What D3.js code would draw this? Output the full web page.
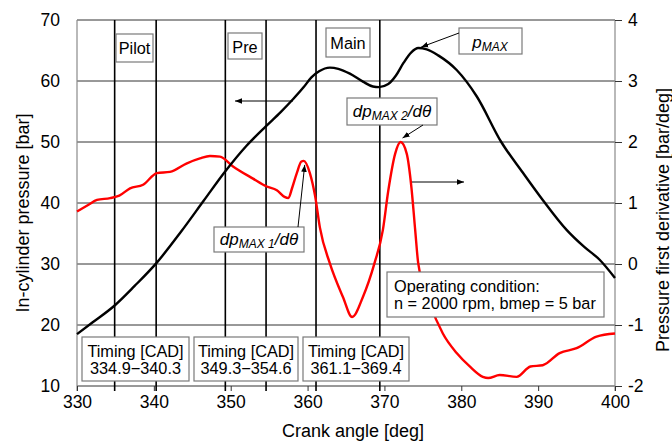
<!DOCTYPE html>
<html>
<head>
<meta charset="utf-8">
<script src="https://cdn.jsdelivr.net/npm/d3@7"></script>
<style>
  body { margin: 0; background: #fff; }
  svg { display: block; font-family: 'Liberation Sans', Arial, sans-serif; }
</style>
</head>
<body>
<svg id="area" width="672" height="443"></svg>
<script>
// crank angle [deg] and in-cylinder pressure [bar] (left axis)
const pAngle = [330, 332, 334.9, 337.5, 340.3, 343.6, 346.5, 349.3, 352, 354.6, 356.5, 358.1, 359.5, 360.5,
  361.5, 362.9, 364, 365.5, 367.2, 368.5, 369.3, 370.5, 371.5, 372.5, 373.5, 374.4, 375.5, 377, 379.4,
  382, 385.2, 388, 390.6, 393.7, 396, 398, 400];
const pValue = [18.5, 20.4, 23.2, 26.4, 30.1, 35.4, 40.4, 45.2, 49.3, 52.6, 54.9, 57.0, 59.0, 60.6,
  61.6, 62.2, 62.0, 61.2, 59.9, 59.1, 59.0, 59.5, 60.9, 63.0, 64.7, 65.4, 65.2, 64.2, 61.8,
  57.5, 50.0, 45.0, 40.5, 35.6, 32.8, 30.7, 27.7];

// pressure first derivative [bar/deg] (right axis)
const dAngle = [330, 331.5, 332.6, 334.3, 335.5, 336.9, 338.6, 340.4, 342.1, 344.3, 346, 347.3, 348.6,
  350.3, 352.9, 354.7, 356, 357, 357.5, 358, 358.6, 359.2, 359.5, 360.3, 361, 361.6, 362.9, 364.6,
  365.8, 367.2, 368.7, 369.8, 370.5, 371.4, 372.1, 372.9, 373.5, 374, 374.4, 375.9, 377.6, 379.4,
  381.1, 382.8, 383.5, 385, 387.2, 389, 390.6, 392.8, 395, 397.6, 400];
const dValue = [0.86, 0.97, 1.05, 1.08, 1.12, 1.24, 1.30, 1.49, 1.51, 1.65, 1.73, 1.77, 1.76,
  1.60, 1.40, 1.27, 1.21, 1.10, 1.08, 1.25, 1.49, 1.68, 1.69, 1.49, 1.1, 0.6, 0.01, -0.54,
  -0.87, -0.54, 0.01, 0.56, 1.2, 1.81, 2.0, 1.81, 1.27, 0.56, 0.01, -0.64, -1.14, -1.46,
  -1.68, -1.85, -1.87, -1.82, -1.85, -1.68, -1.66, -1.46, -1.38, -1.19, -1.14];

// injection timings [CAD]
const timingLabels = ['Pilot', 'Pre', 'Main'];
const timingStart = [334.9, 349.3, 361.1];
const timingEnd = [340.3, 354.6, 369.4];

const xTicks = [330, 340, 350, 360, 370, 380, 390, 400];
const leftTicks = [10, 20, 30, 40, 50, 60, 70];
const rightTicks = [-2, -1, 0, 1, 2, 3, 4];

const svg = d3.select('#area');
const margin = { top: 20, bottom: 57, left: 77, right: 57 };
const width = 672 - margin.left - margin.right;
const height = 443 - margin.top - margin.bottom;

const x = d3.scaleLinear().domain([330, 400]).range([margin.left, margin.left + width]);
const yL = d3.scaleLinear().domain([10, 70]).range([margin.top + height, margin.top]);
const yR = d3.scaleLinear().domain([-2, 4]).range([margin.top + height, margin.top]);

// defs: arrow head
svg.append('defs').append('marker')
  .attr('id', 'head')
  .attr('viewBox', '0 0 10 10')
  .attr('refX', 10)
  .attr('refY', 5)
  .attr('markerWidth', 7)
  .attr('markerHeight', 7)
  .attr('markerUnits', 'userSpaceOnUse')
  .attr('orient', 'auto')
  .append('path')
  .attr('d', 'M0,1 L10,5 L0,9 z')
  .attr('fill', '#000');

// horizontal grid
svg.append('g')
  .selectAll('line')
  .data(leftTicks)
  .join('line')
  .attr('x1', margin.left)
  .attr('x2', margin.left + width)
  .attr('y1', (d) => yL(d))
  .attr('y2', (d) => yL(d))
  .attr('stroke', '#333')
  .attr('stroke-width', 1);

// left and right frame lines
svg.append('line')
  .attr('x1', margin.left).attr('x2', margin.left)
  .attr('y1', margin.top).attr('y2', margin.top + height + 5)
  .attr('stroke', '#8a8a8a').attr('stroke-width', 1.2);
svg.append('line')
  .attr('x1', margin.left + width).attr('x2', margin.left + width)
  .attr('y1', margin.top).attr('y2', margin.top + height + 5)
  .attr('stroke', '#8a8a8a').attr('stroke-width', 1.2);

// timing lines
const allTimings = timingStart.concat(timingEnd);
svg.append('g')
  .selectAll('line')
  .data(allTimings)
  .join('line')
  .attr('x1', (d) => x(d))
  .attr('x2', (d) => x(d))
  .attr('y1', margin.top)
  .attr('y2', margin.top + height + 5)
  .attr('stroke', '#000')
  .attr('stroke-width', 1.6);

// x axis
const xAxis = d3.axisBottom(x).tickValues(xTicks).tickSize(5).tickPadding(5);
const gx = svg.append('g')
  .attr('transform', `translate(0, ${margin.top + height})`)
  .call(xAxis);
gx.select('.domain').remove();
gx.selectAll('line').attr('stroke', '#333');
gx.selectAll('text').attr('font-size', 17.5).attr('fill', '#000')
  .attr('font-family', "'Liberation Sans', Arial, sans-serif");

// left axis (labels only)
const yAxisL = d3.axisLeft(yL).tickValues(leftTicks).tickSize(0).tickPadding(17);
const gl = svg.append('g')
  .attr('transform', `translate(${margin.left}, 0)`)
  .call(yAxisL);
gl.select('.domain').remove();
gl.selectAll('text').attr('font-size', 17.5).attr('fill', '#000')
  .attr('font-family', "'Liberation Sans', Arial, sans-serif");

// right axis
const yAxisR = d3.axisRight(yR).tickValues(rightTicks).tickSize(7).tickPadding(6)
  .tickFormat((d) => String(d));
const gr = svg.append('g')
  .attr('transform', `translate(${margin.left + width}, 0)`)
  .call(yAxisR);
gr.select('.domain').remove();
gr.selectAll('line').attr('stroke', '#333');
gr.selectAll('text').attr('font-size', 17.5).attr('fill', '#000')
  .attr('font-family', "'Liberation Sans', Arial, sans-serif");

// axis titles
svg.append('text')
  .attr('transform', `translate(28.5, ${margin.top + height / 2 + 10}) rotate(-90)`)
  .attr('text-anchor', 'middle')
  .attr('font-size', 18)
  .text('In-cylinder pressure [bar]');
svg.append('text')
  .attr('transform', `translate(669, ${margin.top + height / 2 + 17}) rotate(-90)`)
  .attr('text-anchor', 'middle')
  .attr('font-size', 18)
  .text('Pressure first derivative [bar/deg]');
svg.append('text')
  .attr('x', 353)
  .attr('y', 437)
  .attr('text-anchor', 'middle')
  .attr('font-size', 18)
  .text('Crank angle [deg]');

// curves
const pData = pAngle.map((a, i) => ({ a, v: pValue[i] }));
const dData = dAngle.map((a, i) => ({ a, v: dValue[i] }));

svg.append('path')
  .datum(dData)
  .attr('fill', 'none')
  .attr('stroke', '#ff0000')
  .attr('stroke-width', 2.4)
  .attr('d', d3.line().x((d) => x(d.a)).y((d) => yR(d.v)).curve(d3.curveMonotoneX));

svg.append('path')
  .datum(pData)
  .attr('fill', 'none')
  .attr('stroke', '#000')
  .attr('stroke-width', 2.4)
  .attr('d', d3.line().x((d) => x(d.a)).y((d) => yL(d.v)).curve(d3.curveMonotoneX));

// annotation helpers
function box(x0, y0, w, h) {
  svg.append('rect')
    .attr('x', x0).attr('y', y0)
    .attr('width', w).attr('height', h)
    .attr('fill', '#fff')
    .attr('stroke', '#7a7a7a')
    .attr('stroke-width', 1.2);
}

function arrow(x1, y1, x2, y2) {
  svg.append('line')
    .attr('x1', x1).attr('y1', y1)
    .attr('x2', x2).attr('y2', y2)
    .attr('stroke', '#000')
    .attr('stroke-width', 1)
    .attr('marker-end', 'url(#head)');
}

// timing label boxes at top
const topBoxes = [[116, 34, 37, 28, 54], [228, 33, 34, 26, 52.5], [326, 28, 44, 29, 48.5]];
timingLabels.forEach((t, i) => {
  const [bx, by, bw, bh, tb] = topBoxes[i];
  box(bx, by, bw, bh);
  svg.append('text')
    .attr('x', bx + bw / 2).attr('y', tb)
    .attr('text-anchor', 'middle')
    .attr('font-size', 16.3)
    .text(t);
});

// timing value boxes at bottom
const botBoxX = [82, 194, 303];
const botBoxW = [107, 104, 106];
timingLabels.forEach((t, i) => {
  box(botBoxX[i], 337, botBoxW[i], 44);
  const tx = svg.append('text')
    .attr('text-anchor', 'middle')
    .attr('font-size', 16.3);
  tx.append('tspan').attr('x', botBoxX[i] + botBoxW[i] / 2).attr('y', 357).text('Timing [CAD]');
  tx.append('tspan').attr('x', botBoxX[i] + botBoxW[i] / 2).attr('y', 374)
    .text(`${timingStart[i].toFixed(1)}\u2212${timingEnd[i].toFixed(1)}`);
});

// operating condition
box(387, 272, 217, 45);
const oc = svg.append('text').attr('font-size', 16.3);
oc.append('tspan').attr('x', 394).attr('y', 292).text('Operating condition:');
oc.append('tspan').attr('x', 394).attr('y', 309).text('n = 2000 rpm, bmep = 5 bar');

// pMAX
const iPmax = d3.maxIndex(pValue);
box(459, 28, 63, 26);
const pm = svg.append('text')
  .attr('x', 490).attr('y', 48)
  .attr('text-anchor', 'middle')
  .attr('font-size', 17)
  .attr('font-style', 'italic');
pm.append('tspan').text('p');
pm.append('tspan').attr('font-size', 12).attr('dy', 3).text('MAX');
arrow(459, 33, x(pAngle[iPmax]) + 3, yL(pValue[iPmax]) - 1);

// dpMAX 2
const iD2 = d3.maxIndex(dValue);
box(347, 98, 90, 27);
const d2 = svg.append('text')
  .attr('x', 392).attr('y', 117)
  .attr('text-anchor', 'middle')
  .attr('font-size', 17)
  .attr('font-style', 'italic');
d2.append('tspan').text('dp');
d2.append('tspan').attr('font-size', 12).attr('dy', 3).text('MAX 2');
d2.append('tspan').attr('dy', -3).text('/d\u03b8');
arrow(423, 125, x(dAngle[iD2]) + 2, yR(dValue[iD2]) - 4);

// dpMAX 1
const iD1 = dAngle.indexOf(359.5);
box(214, 227, 90, 25);
const d1 = svg.append('text')
  .attr('x', 259).attr('y', 245)
  .attr('text-anchor', 'middle')
  .attr('font-size', 17)
  .attr('font-style', 'italic');
d1.append('tspan').text('dp');
d1.append('tspan').attr('font-size', 12).attr('dy', 3).text('MAX 1');
d1.append('tspan').attr('dy', -3).text('/d\u03b8');
arrow(298, 227, x(dAngle[iD1]) + 1, yR(dValue[iD1]) + 4);

// axis direction arrows
arrow(293, 101, 235, 101);
arrow(412, 182, 464, 182);
</script>
</body>
</html>
